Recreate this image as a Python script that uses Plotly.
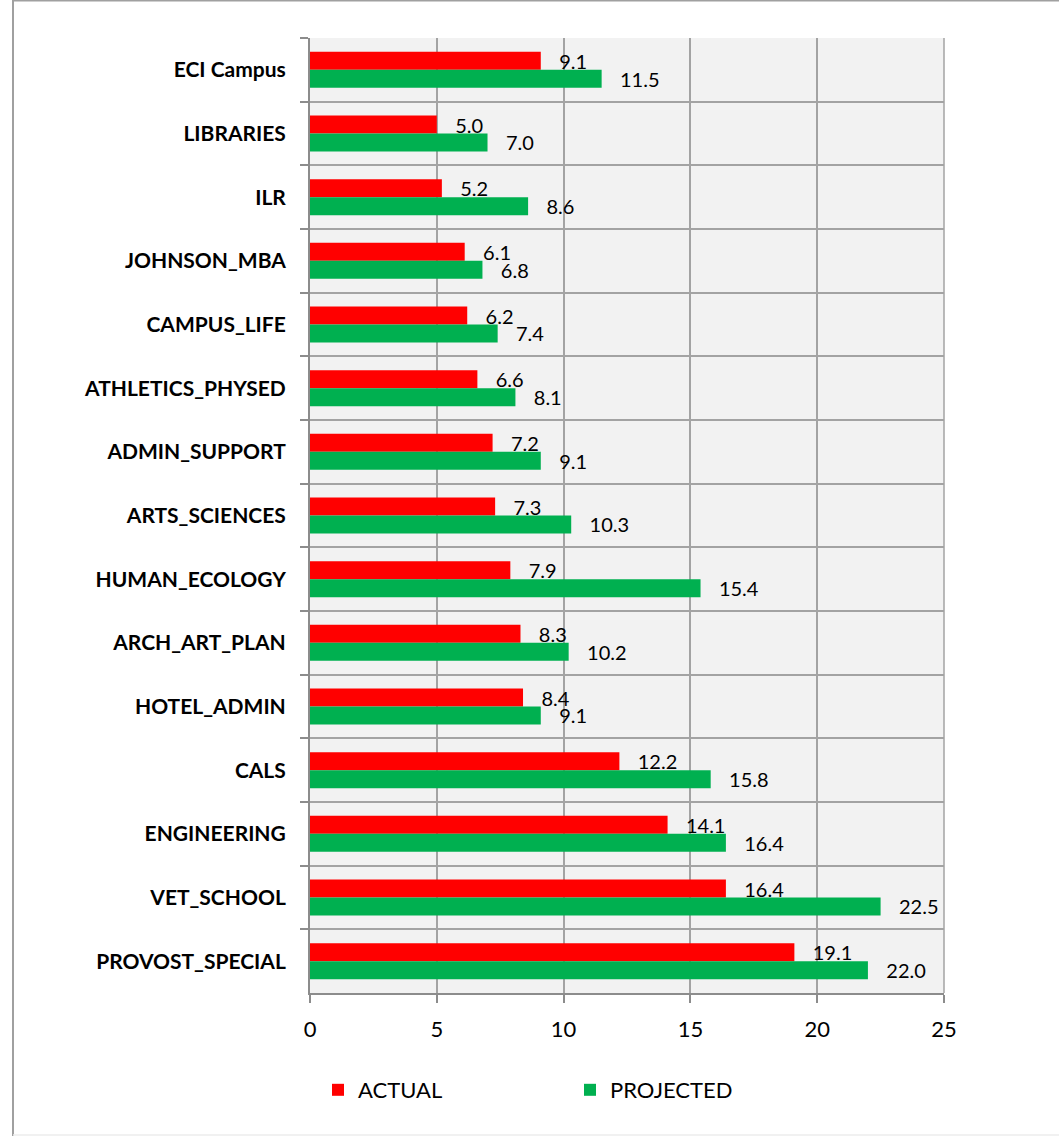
import plotly.graph_objects as go

categories = ["ECI Campus", "LIBRARIES", "ILR", "JOHNSON_MBA", "CAMPUS_LIFE",
              "ATHLETICS_PHYSED", "ADMIN_SUPPORT", "ARTS_SCIENCES", "HUMAN_ECOLOGY",
              "ARCH_ART_PLAN", "HOTEL_ADMIN", "CALS", "ENGINEERING", "VET_SCHOOL",
              "PROVOST_SPECIAL"]
actual = [9.1, 5.0, 5.2, 6.1, 6.2, 6.6, 7.2, 7.3, 7.9, 8.3, 8.4, 12.2, 14.1, 16.4, 19.1]
projected = [11.5, 7.0, 8.6, 6.8, 7.4, 8.1, 9.1, 10.3, 15.4, 10.2, 9.1, 15.8, 16.4, 22.5, 22.0]
x_ticks = [0, 5, 10, 15, 20, 25]

FONT = "Lato"
GRID = "#A3A3A3"
AXIS = "#8C8C8C"
pad = "\u00a0" * 3

fig = go.Figure()
fig.add_trace(go.Bar(
    y=categories, x=actual, orientation="h", name="ACTUAL",
    marker=dict(color="#FF0000", line=dict(width=0)),
    texttemplate=pad + "%{x:.1f}", textposition="outside",
    textfont=dict(family=FONT, size=20, color="#000000"),
    constraintext="none", cliponaxis=False,
))
fig.add_trace(go.Bar(
    y=categories, x=projected, orientation="h", name="PROJECTED",
    marker=dict(color="#00B050", line=dict(width=0)),
    texttemplate=pad + "%{x:.1f}", textposition="outside",
    textfont=dict(family=FONT, size=20, color="#000000"),
    constraintext="none", cliponaxis=False,
))

L, R, T, B = 310, 115, 38, 143
W, H = 1059, 1136
pw, ph = W - L - R, H - T - B


def px_x(p):
    return (p - L) / pw


def px_y(p):
    return (H - B - p) / ph


border = "#A0A0A0"
fig.update_layout(
    width=W, height=H,
    margin=dict(l=L, r=R, t=T, b=B, pad=0),
    paper_bgcolor="#FFFFFF",
    plot_bgcolor="#F2F2F2",
    barmode="group",
    bargap=0.435,
    bargroupgap=0,
    font=dict(family=FONT, color="#000000"),
    showlegend=True,
    legend=dict(
        orientation="h", x=px_x(318), xanchor="left", y=px_y(1090), yanchor="middle",
        font=dict(family=FONT, size=22, color="#000000"),
        entrywidth=207, entrywidthmode="pixels",
        bgcolor="rgba(0,0,0,0)", traceorder="normal",
    ),
    xaxis=dict(
        range=[0, 25], tickvals=x_ticks, showgrid=True, gridcolor=GRID, gridwidth=1.5,
        zeroline=False, showline=True, linecolor=AXIS, linewidth=2,
        ticks="outside", ticklen=8, tickcolor=AXIS, tickwidth=2,
        tickfont=dict(family=FONT, size=22, color="#000000"),
        ticklabelstandoff=8,
        mirror=False,
    ),
    yaxis=dict(
        type="category", autorange="reversed", tickson="boundaries",
        showgrid=True, gridcolor=GRID, gridwidth=1.5,
        showline=True, linecolor=AXIS, linewidth=2,
        ticks="outside", ticklen=8, tickcolor=AXIS, tickwidth=2,
        tickfont=dict(family=FONT, size=21, color="#000000", weight="bold"),
        ticklabelstandoff=18,
    ),
    shapes=[
        dict(type="line", xref="paper", yref="paper",
             x0=px_x(13), x1=px_x(13), y0=px_y(1136), y1=px_y(0),
             line=dict(color=border, width=2)),
        dict(type="line", xref="paper", yref="paper",
             x0=px_x(13), x1=px_x(1059), y0=px_y(0.5), y1=px_y(0.5),
             line=dict(color=border, width=2)),
        dict(type="line", xref="paper", yref="paper",
             x0=px_x(13), x1=px_x(1059), y0=px_y(1135), y1=px_y(1135),
             line=dict(color="#EDEDED", width=1.5)),
        dict(type="line", xref="paper", yref="paper",
             x0=1, x1=1, y0=0, y1=1, line=dict(color=GRID, width=1.5)),
    ],
)

fig.write_html("out.html")
